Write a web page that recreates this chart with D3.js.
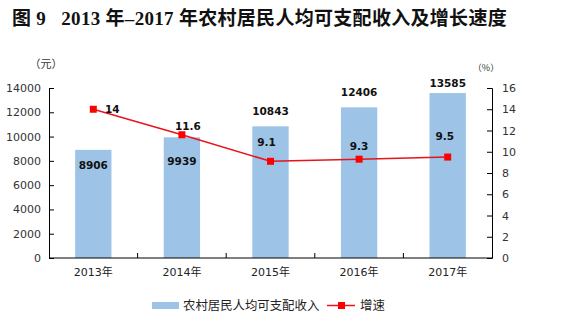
<!DOCTYPE html>
<html>
<head>
<meta charset="utf-8">
<script src="https://cdn.jsdelivr.net/npm/d3@7/dist/d3.min.js"></script>
<style>
  html, body { margin: 0; padding: 0; background: #fff; }
  svg { display: block; }
  text { font-family: "DejaVu Sans", "Noto Sans CJK SC", sans-serif; }
</style>
</head>
<body>
<svg id="chart" width="569" height="335"></svg>
<script>
// Rural per-capita disposable income (yuan) and growth rate (%)
const years = ["2013年", "2014年", "2015年", "2016年", "2017年"];
const income = [8906, 9939, 10843, 12406, 13585];
const growth = [14, 11.6, 9.1, 9.3, 9.5];
const incomeTicks = [0, 2000, 4000, 6000, 8000, 10000, 12000, 14000];
const growthTicks = [0, 2, 4, 6, 8, 10, 12, 14, 16];

// label placement offsets (px) relative to each mark
const incomeLabelDy = [15, 24, -15, -15, -10];
const growthLabelDx = [19, 6, -4, 0, -3];
const growthLabelDy = [0, -9, -19, -13, -21];
const growthLeader = [false, false, true, false, true];

const svg = d3.select("#chart");
const plotLeft = 49, plotRight = 492, plotTop = 88, plotBottom = 258;

const x = d3.scaleBand().domain(years).range([plotLeft, plotRight])
  .paddingInner(0.59).paddingOuter(0.295);
const yL = d3.scaleLinear().domain([0, 14000]).range([plotBottom, plotTop]);
const yR = d3.scaleLinear().domain([0, 16]).range([plotBottom, plotTop]);
const cx = d => x(d) + x.bandwidth() / 2;

// title
svg.append("text")
  .attr("x", 12).attr("y", 25)
  .style("font-family", "'Liberation Serif', 'Noto Sans CJK SC', serif")
  .style("font-weight", "bold")
  .style("font-size", "19px")
  .style("letter-spacing", "0.3px")
  .attr("fill", "#111")
  .text("图 9\u00a0\u00a0\u00a02013 年–2017 年农村居民人均可支配收入及增长速度");

// units
svg.append("text").attr("x", 46).attr("y", 68).attr("text-anchor", "middle")
  .style("font-family", "'Noto Sans CJK TC', sans-serif")
  .style("font-size", "11px").attr("fill", "#333").text("（元）");
svg.append("text").attr("x", 486).attr("y", 71).attr("text-anchor", "middle")
  .style("font-family", "'Noto Sans CJK TC', sans-serif")
  .style("font-size", "9px").attr("fill", "#333").text("（%）");

// bars
svg.append("g").selectAll("rect").data(income).join("rect")
  .attr("x", (d, i) => x(years[i]))
  .attr("y", d => yL(d))
  .attr("width", x.bandwidth())
  .attr("height", d => plotBottom - yL(d))
  .attr("fill", "#9dc3e6");

// left axis
const axL = svg.append("g").attr("transform", `translate(${plotLeft},0)`)
  .call(d3.axisRight(yL).tickValues(incomeTicks).tickSize(5).tickFormat(d3.format("d")));
axL.selectAll("text").attr("x", -8).attr("text-anchor", "end")
  .style("font-size", "11px").attr("fill", "#333");

// right axis
const axR = svg.append("g").attr("transform", `translate(${plotRight},0)`)
  .call(d3.axisLeft(yR).tickValues(growthTicks).tickSize(5));
axR.selectAll("text").attr("x", 10).attr("text-anchor", "start")
  .style("font-size", "11px").attr("fill", "#333");

// bottom axis with ticks between categories
const axB = svg.append("g").attr("transform", `translate(0,${plotBottom})`);
axB.append("line").attr("x1", plotLeft).attr("x2", plotRight).attr("stroke", "#000");
const step = x.step();
axB.selectAll("line.sep").data(d3.range(1, years.length)).join("line")
  .attr("class", "sep")
  .attr("x1", i => plotLeft + i * step).attr("x2", i => plotLeft + i * step)
  .attr("y1", 0).attr("y2", -5).attr("stroke", "#000");
axB.selectAll("text").data(years).join("text")
  .attr("x", d => cx(d)).attr("y", 18).attr("text-anchor", "middle")
  .style("font-size", "11px").attr("fill", "#222").text(d => d);

svg.selectAll(".domain").attr("stroke", "#000");
svg.selectAll(".tick line").attr("stroke", "#000");

// income labels
svg.append("g").selectAll("text").data(income).join("text")
  .attr("x", (d, i) => cx(years[i]))
  .attr("y", (d, i) => yL(d) + incomeLabelDy[i] + 4)
  .attr("text-anchor", "middle")
  .style("font-size", "10.5px").style("font-weight", "bold")
  .attr("fill", "#111").text(d => d);

// growth line
const line = d3.line().x((d, i) => cx(years[i])).y(d => yR(d));
svg.append("path").datum(growth).attr("d", line)
  .attr("fill", "none").attr("stroke", "#e8141b").attr("stroke-width", 1.5);

// leader lines
svg.append("g").selectAll("line").data(growth.map((d, i) => [d, i]).filter(p => growthLeader[p[1]]))
  .join("line")
  .attr("x1", p => cx(years[p[1]]) + growthLabelDx[p[1]])
  .attr("x2", p => cx(years[p[1]]))
  .attr("y1", p => yR(p[0]) + growthLabelDy[p[1]] + 6)
  .attr("y2", p => yR(p[0]) - 4)
  .attr("stroke", "#bbb").attr("stroke-width", 0.8);

svg.append("g").selectAll("rect").data(growth).join("rect")
  .attr("x", (d, i) => cx(years[i]) - 3.5)
  .attr("y", d => yR(d) - 3.5)
  .attr("width", 7).attr("height", 7)
  .attr("fill", "#ff0000");

svg.append("g").selectAll("text").data(growth).join("text")
  .attr("x", (d, i) => cx(years[i]) + growthLabelDx[i])
  .attr("y", (d, i) => yR(d) + growthLabelDy[i] + 4)
  .attr("text-anchor", "middle")
  .style("font-size", "10.5px").style("font-weight", "bold")
  .attr("fill", "#111").text(d => d);

// legend
const lg = svg.append("g");
lg.append("rect").attr("x", 152).attr("y", 302).attr("width", 27).attr("height", 7).attr("fill", "#9dc3e6");
lg.append("text").attr("x", 183).attr("y", 310).style("font-size", "12.4px").attr("fill", "#222")
  .text("农村居民人均可支配收入");
lg.append("line").attr("x1", 327).attr("x2", 355).attr("y1", 305.5).attr("y2", 305.5)
  .attr("stroke", "#e8141b").attr("stroke-width", 1.5);
lg.append("rect").attr("x", 338).attr("y", 302).attr("width", 7).attr("height", 7).attr("fill", "#ff0000");
lg.append("text").attr("x", 360).attr("y", 310).style("font-size", "12.4px").attr("fill", "#222").text("增速");
</script>
</body>
</html>
